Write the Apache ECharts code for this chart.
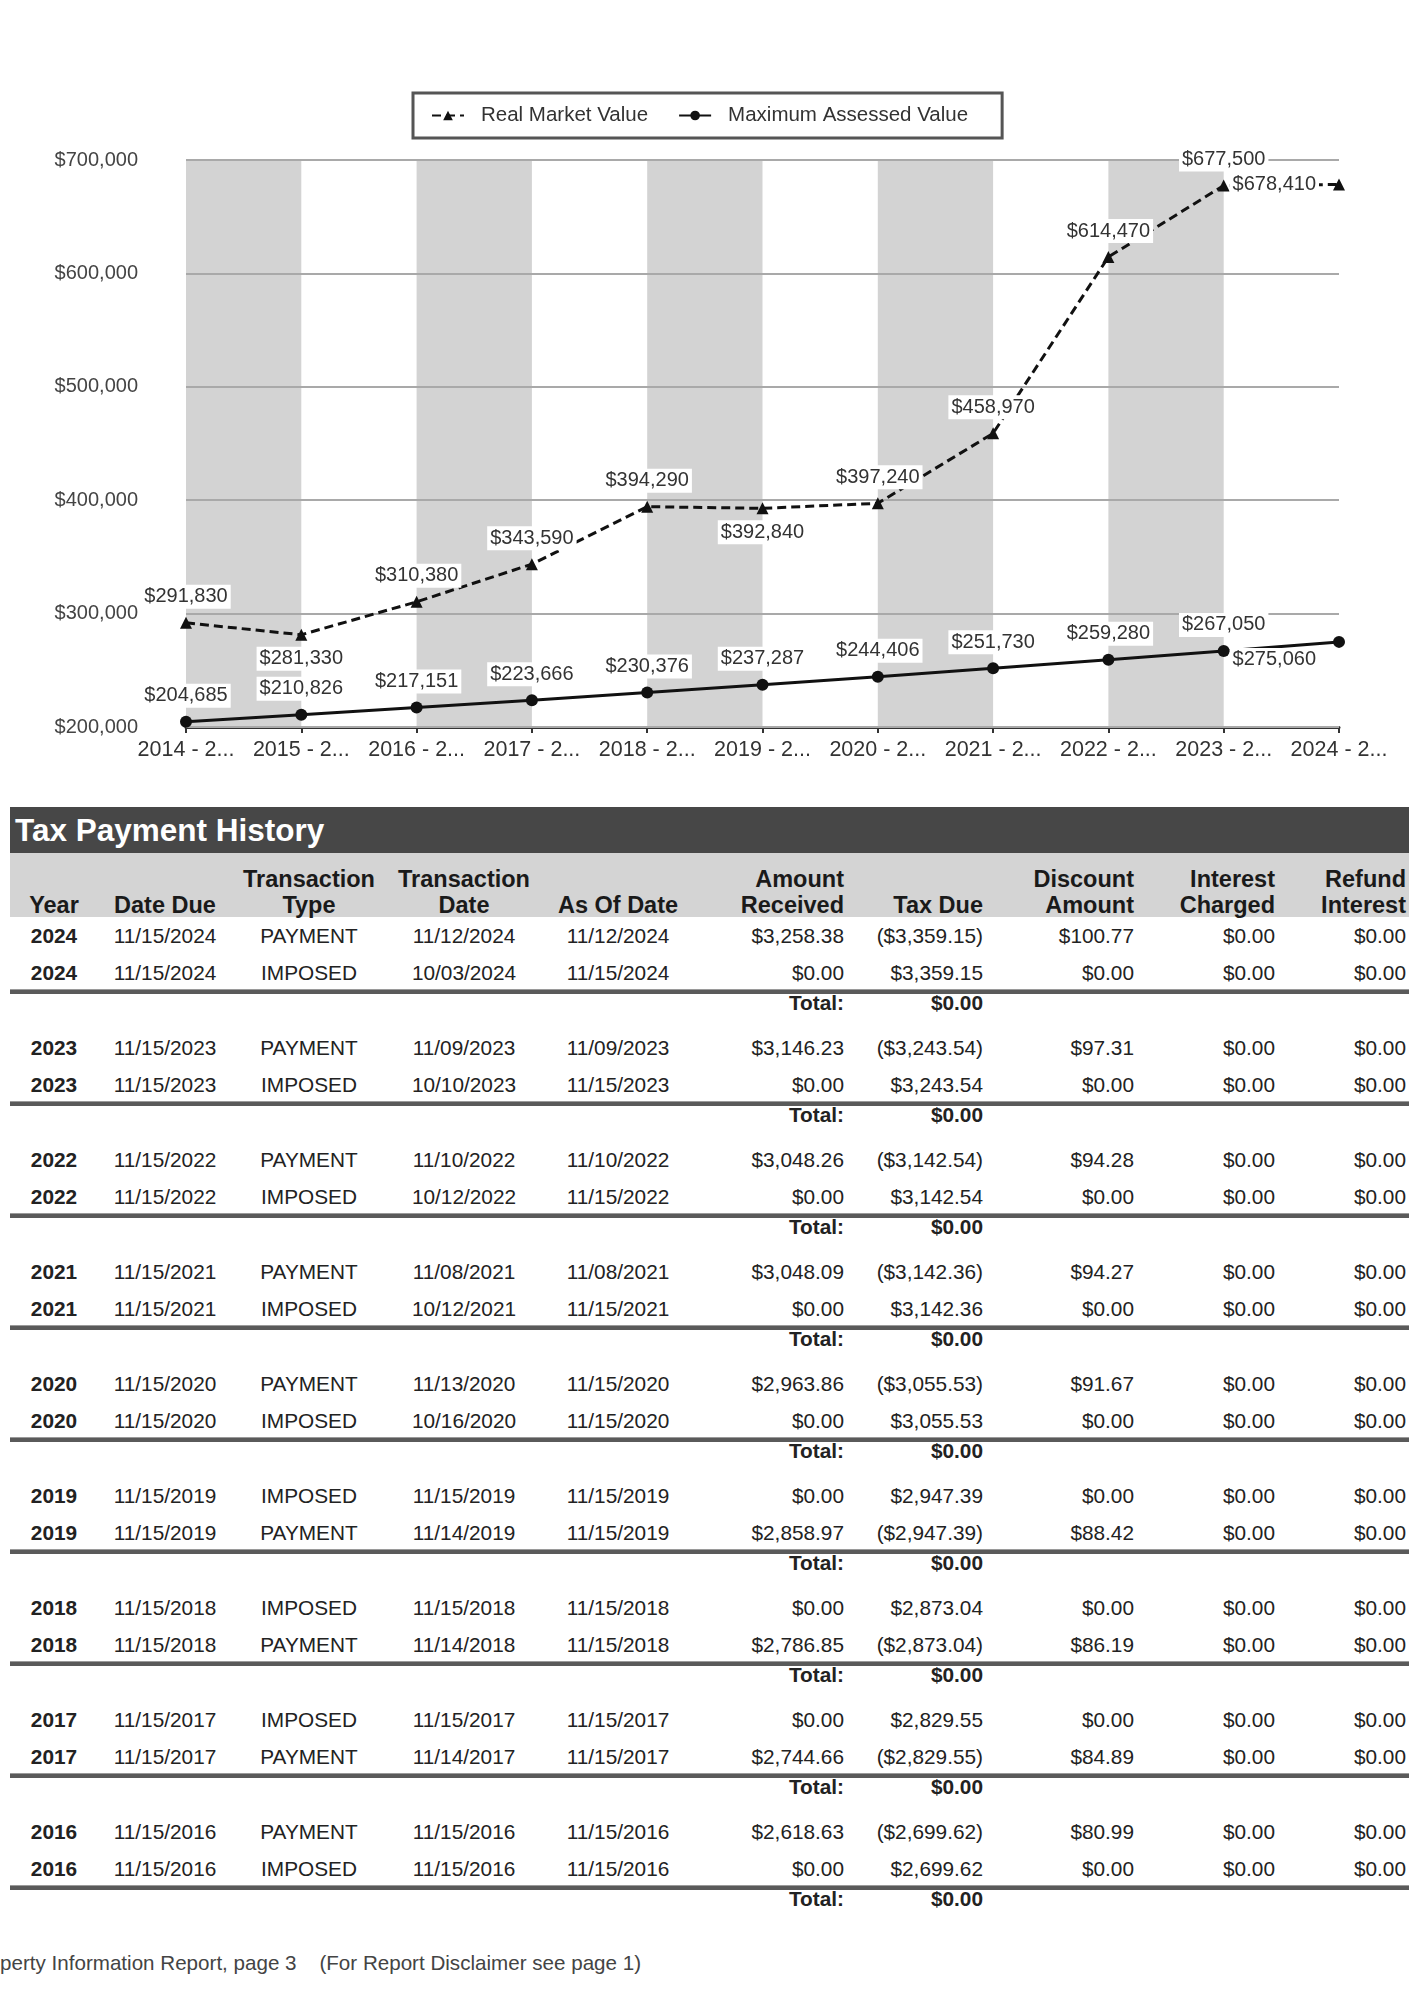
<!DOCTYPE html>
<html>
<head>
<meta charset="utf-8">
<script src="https://cdn.jsdelivr.net/npm/echarts@6/dist/echarts.min.js"></script>
<style>
  html, body { margin: 0; padding: 0; background: #fff; }
  body { width: 1414px; height: 2000px; position: relative; overflow: hidden;
         font-family: "Liberation Sans", Arial, sans-serif; color: #222; }
  #chart { position: absolute; left: 0; top: 0; width: 1414px; height: 790px; }
  .abs { position: absolute; white-space: nowrap; }
  .titlebar { position: absolute; left: 10px; top: 807px; width: 1399px; height: 46px; background: #474747; }
  .titletext { color: #fff; font-weight: bold; font-size: 31.5px; line-height: 46px; left: 15px; top: 807px; }
  .hdrbar { position: absolute; left: 10px; top: 853px; width: 1399px; height: 64px; background: #d4d4d4; }
  .hdr { font-weight: bold; font-size: 23.5px; line-height: 26px; color: #1a1a1a; }
  .cell { font-size: 20.8px; line-height: 26px; color: #222; }
  .bold { font-weight: bold; }
  .sep { position: absolute; left: 10px; width: 1399px; height: 4px; background: #5a5a5a; border-top: 1px solid #9a9a9a; }
  .footer { font-size: 20.6px; line-height: 26px; color: #444; left: -32px; top: 1950px; white-space: pre; }
</style>
</head>
<body>
<div id="chart"></div>
<div id="table"></div>
<script>
// ---------- chart data ----------
const categories = ['2014 - 2015', '2015 - 2016', '2016 - 2017', '2017 - 2018', '2018 - 2019',
  '2019 - 2020', '2020 - 2021', '2021 - 2022', '2022 - 2023', '2023 - 2024', '2024 - 2025'];
const realMarketValue = [291830, 281330, 310380, 343590, 394290, 392840, 397240, 458970, 614470, 677500, 678410];
const maxAssessedValue = [204685, 210826, 217151, 223666, 230376, 237287, 244406, 251730, 259280, 267050, 275060];
const yMin = 200000, yMax = 700000, yInterval = 100000;

// label placement (presentation only)
const rmvLabelPlace = ['top', 'bottom', 'top', 'top', 'top', 'bottom', 'top', 'top', 'top', 'top', 'left'];
const mavLabelPlace = ['top', 'top', 'top', 'top', 'top', 'top', 'top', 'top', 'top', 'top', 'leftLow'];

// ---------- table data ----------
const taxHeaders = [['', 'Year'], ['', 'Date Due'], ['Transaction', 'Type'], ['Transaction', 'Date'], ['', 'As Of Date'],
  ['Amount', 'Received'], ['', 'Tax Due'], ['Discount', 'Amount'], ['Interest', 'Charged'], ['Refund', 'Interest']];
const taxGroups = [
  [['2024', '11/15/2024', 'PAYMENT', '11/12/2024', '11/12/2024', '$3,258.38', '($3,359.15)', '$100.77', '$0.00', '$0.00'],
   ['2024', '11/15/2024', 'IMPOSED', '10/03/2024', '11/15/2024', '$0.00', '$3,359.15', '$0.00', '$0.00', '$0.00']],
  [['2023', '11/15/2023', 'PAYMENT', '11/09/2023', '11/09/2023', '$3,146.23', '($3,243.54)', '$97.31', '$0.00', '$0.00'],
   ['2023', '11/15/2023', 'IMPOSED', '10/10/2023', '11/15/2023', '$0.00', '$3,243.54', '$0.00', '$0.00', '$0.00']],
  [['2022', '11/15/2022', 'PAYMENT', '11/10/2022', '11/10/2022', '$3,048.26', '($3,142.54)', '$94.28', '$0.00', '$0.00'],
   ['2022', '11/15/2022', 'IMPOSED', '10/12/2022', '11/15/2022', '$0.00', '$3,142.54', '$0.00', '$0.00', '$0.00']],
  [['2021', '11/15/2021', 'PAYMENT', '11/08/2021', '11/08/2021', '$3,048.09', '($3,142.36)', '$94.27', '$0.00', '$0.00'],
   ['2021', '11/15/2021', 'IMPOSED', '10/12/2021', '11/15/2021', '$0.00', '$3,142.36', '$0.00', '$0.00', '$0.00']],
  [['2020', '11/15/2020', 'PAYMENT', '11/13/2020', '11/15/2020', '$2,963.86', '($3,055.53)', '$91.67', '$0.00', '$0.00'],
   ['2020', '11/15/2020', 'IMPOSED', '10/16/2020', '11/15/2020', '$0.00', '$3,055.53', '$0.00', '$0.00', '$0.00']],
  [['2019', '11/15/2019', 'IMPOSED', '11/15/2019', '11/15/2019', '$0.00', '$2,947.39', '$0.00', '$0.00', '$0.00'],
   ['2019', '11/15/2019', 'PAYMENT', '11/14/2019', '11/15/2019', '$2,858.97', '($2,947.39)', '$88.42', '$0.00', '$0.00']],
  [['2018', '11/15/2018', 'IMPOSED', '11/15/2018', '11/15/2018', '$0.00', '$2,873.04', '$0.00', '$0.00', '$0.00'],
   ['2018', '11/15/2018', 'PAYMENT', '11/14/2018', '11/15/2018', '$2,786.85', '($2,873.04)', '$86.19', '$0.00', '$0.00']],
  [['2017', '11/15/2017', 'IMPOSED', '11/15/2017', '11/15/2017', '$0.00', '$2,829.55', '$0.00', '$0.00', '$0.00'],
   ['2017', '11/15/2017', 'PAYMENT', '11/14/2017', '11/15/2017', '$2,744.66', '($2,829.55)', '$84.89', '$0.00', '$0.00']],
  [['2016', '11/15/2016', 'PAYMENT', '11/15/2016', '11/15/2016', '$2,618.63', '($2,699.62)', '$80.99', '$0.00', '$0.00'],
   ['2016', '11/15/2016', 'IMPOSED', '11/15/2016', '11/15/2016', '$0.00', '$2,699.62', '$0.00', '$0.00', '$0.00']]
];
const totalLabel = 'Total:';
const totalValue = '$0.00';
const footerText = 'Property Information Report, page 3    (For Report Disclaimer see page 1)';

// ---------- chart ----------
const fmtMoney = v => '$' + Number(v).toLocaleString('en-US');

function labelFor(place) {
  if (place === 'bottom') return { position: 'bottom', distance: 6 };
  if (place === 'left') return { position: 'left', distance: 14 };
  if (place === 'leftLow') return { position: 'left', distance: 14, offset: [0, 18] };
  return { position: 'top', distance: 8 };
}

const baseLabel = {
  show: true, color: '#333', fontSize: 20, backgroundColor: '#fff', padding: [2, 3],
  formatter: p => fmtMoney(p.value)
};

const chart = echarts.init(document.getElementById('chart'), null, { renderer: 'canvas' });
chart.setOption({
  animation: false,
  textStyle: { fontFamily: '"Liberation Sans", Arial, sans-serif' },
  legend: {
    top: 93, left: 413,
    borderColor: '#555', borderWidth: 3, borderRadius: 0,
    padding: [12, 34, 12, 18],
    itemGap: 30, itemWidth: 32, itemHeight: 12,
    textStyle: { fontSize: 20.5, color: '#333', padding: [0, 0, 0, 12] },
    data: ['Real Market Value', 'Maximum Assessed Value']
  },
  grid: { left: 186, right: 75, top: 160, bottom: 63 },
  xAxis: {
    type: 'category', data: categories, boundaryGap: false, z: 0,
    axisLine: { show: true, lineStyle: { color: '#333', width: 3 } },
    axisTick: { show: true, length: 6, lineStyle: { color: '#333', width: 2 } },
    axisLabel: { fontSize: 21.5, color: '#333', margin: 12, interval: 0,
      formatter: v => v.slice(0, 8) + '...' },
    splitLine: { show: false },
    splitArea: { show: true, areaStyle: { color: ['#d3d3d3', 'rgba(255,255,255,0)'] } }
  },
  yAxis: {
    type: 'value', min: yMin, max: yMax, interval: yInterval, z: 1,
    axisLine: { show: false }, axisTick: { show: false },
    axisLabel: { fontSize: 20, color: '#444', margin: 48, formatter: v => fmtMoney(v) },
    splitLine: { show: true, lineStyle: { color: '#a9a9a9', width: 2 } }
  },
  series: [
    {
      name: 'Real Market Value', type: 'line', z: 3,
      data: realMarketValue.map((v, i) => ({ value: v, label: labelFor(rmvLabelPlace[i]) })),
      symbol: 'triangle', symbolSize: 12,
      itemStyle: { color: '#111' },
      lineStyle: { color: '#111', width: 3, type: [9, 5] },
      label: baseLabel
    },
    {
      name: 'Maximum Assessed Value', type: 'line', z: 4,
      data: maxAssessedValue.map((v, i) => ({ value: v, label: labelFor(mavLabelPlace[i]) })),
      symbol: 'circle', symbolSize: 12,
      itemStyle: { color: '#111' },
      lineStyle: { color: '#111', width: 3 },
      label: baseLabel
    }
  ]
});

// ---------- table ----------
const colCenters = [54, 165, 309, 464, 618];     // centered columns
const colRights = [844, 983, 1134, 1275, 1406];  // right aligned columns
const groupPitch = 112, row1Y = 936, row2Dy = 37, sepDy = 53, totalDy = 67;
const hdrLine1Y = 879, hdrLine2Y = 905;

const root = document.getElementById('table');
function put(text, idx, cy, cls) {
  const d = document.createElement('div');
  d.className = 'abs ' + cls;
  d.textContent = text;
  d.style.top = (cy - 13) + 'px';
  if (idx < 5) {
    d.style.left = (colCenters[idx] - 100) + 'px';
    d.style.width = '200px';
    d.style.textAlign = 'center';
  } else {
    d.style.right = (1414 - colRights[idx - 5]) + 'px';
    d.style.textAlign = 'right';
  }
  root.appendChild(d);
}
function block(cls, extra) {
  const d = document.createElement('div');
  d.className = cls;
  if (extra) Object.assign(d.style, extra);
  root.appendChild(d);
  return d;
}
block('titlebar');
const t = block('abs titletext'); t.textContent = 'Tax Payment History';
block('hdrbar');
taxHeaders.forEach((h, i) => {
  if (h[0]) put(h[0], i, hdrLine1Y, 'hdr');
  put(h[1], i, hdrLine2Y, 'hdr');
});
taxGroups.forEach((rows, g) => {
  const base = row1Y + g * groupPitch;
  rows.forEach((r, ri) => {
    const cy = base + ri * row2Dy;
    r.forEach((val, ci) => put(val, ci, cy, ci === 0 ? 'cell bold' : 'cell'));
  });
  block('sep', { top: (base + sepDy) + 'px' });
  put(totalLabel, 5, base + totalDy, 'cell bold');
  put(totalValue, 6, base + totalDy, 'cell bold');
});
const f = block('abs footer'); f.textContent = footerText;
</script>
</body>
</html>
